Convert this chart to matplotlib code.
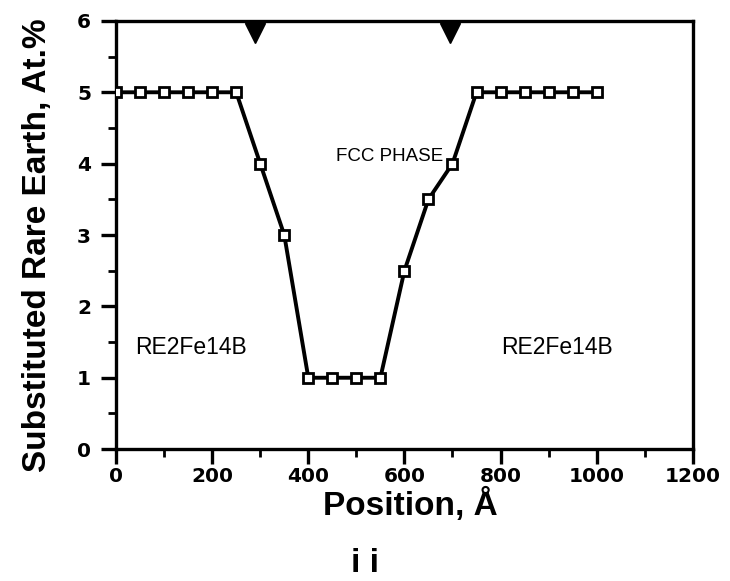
import numpy as np
import matplotlib.pyplot as plt

# data
position = [0, 50, 100, 150, 200, 250, 300, 350, 400, 450, 500, 550,
            600, 650, 700, 750, 800, 850, 900, 950, 1000]
rare_earth = [5, 5, 5, 5, 5, 5, 4, 3, 1, 1, 1, 1,
              2.5, 3.5, 4, 5, 5, 5, 5, 5, 5]
boundaries = [290, 695]   # triangle markers at the top edge

plt.rcParams['font.family'] = ['Liberation Sans', 'DejaVu Sans']

fig = plt.figure(figsize=(7.3, 5.81), dpi=100)
ax = fig.add_axes([0.159, 0.227, 0.79, 0.737])

ax.plot(position, rare_earth, color='black', lw=2.8, marker='s', ms=7.5,
        mfc='white', mec='black', mew=2, zorder=3)

# phase boundary markers hanging from the top spine
ax.plot(boundaries, [5.83] * len(boundaries), marker='v', ls='none',
        color='black', ms=15, clip_on=False, zorder=4)

ax.text(570, 4.1, 'FCC PHASE', fontsize=13.5, ha='center', va='center')
ax.text(155, 1.43, 'RE2Fe14B', fontsize=16.5, ha='center', va='center')
ax.text(917, 1.43, 'RE2Fe14B', fontsize=16.5, ha='center', va='center')

ax.set_xlim(0, 1200)
ax.set_ylim(0, 6)
ax.set_xticks(np.arange(0, 1201, 200))
ax.set_xticks(np.arange(100, 1200, 200), minor=True)
ax.set_yticks(np.arange(0, 7, 1))
ax.set_yticks(np.arange(0.5, 6, 1), minor=True)

for s in ax.spines.values():
    s.set_linewidth(2.4)

ax.tick_params(axis='both', which='major', direction='out', length=11,
               width=2.4)
ax.tick_params(axis='y', which='major', pad=7)
ax.tick_params(axis='x', which='major', pad=2)
ax.tick_params(axis='both', which='minor', direction='out', length=6,
               width=2)
for lab in ax.get_xticklabels() + ax.get_yticklabels():
    lab.set_fontweight('bold')
    lab.set_fontfamily('DejaVu Sans')
    lab.set_fontsize(14.5)

ax.set_xlabel('Position, Å', fontsize=24, fontweight='bold', va='top')
ax.xaxis.set_label_coords(0.51, -0.09)
ax.set_ylabel('Substituted Rare Earth, At.%', fontsize=24,
              fontweight='bold')
ax.yaxis.set_label_coords(-0.11, 0.477)

fig.text(0.5, 0.015, 'i i', fontsize=24, fontweight='bold', ha='center')

fig.savefig('out.png', dpi=100)
